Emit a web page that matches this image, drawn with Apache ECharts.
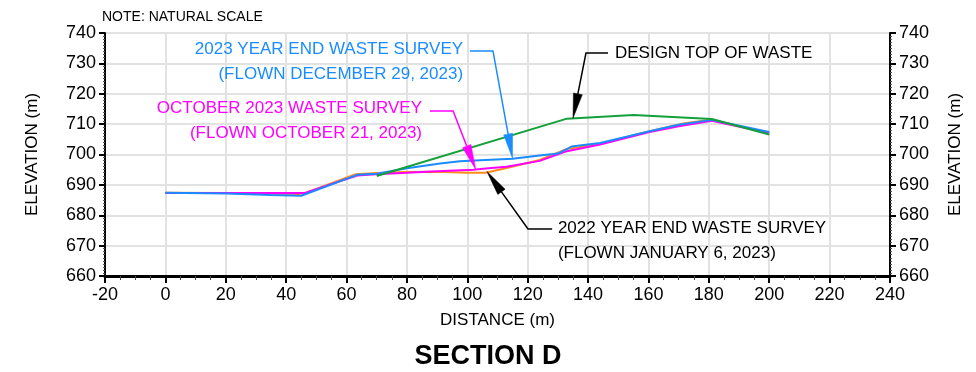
<!DOCTYPE html>
<html>
<head>
<meta charset="utf-8">
<script src="https://cdn.jsdelivr.net/npm/echarts@6/dist/echarts.min.js"></script>
<style>
  html, body { margin: 0; padding: 0; background: #fff; }
  #chart { width: 976px; height: 372px; }
</style>
</head>
<body>
<div id="chart"></div>
<script>
// Section D profiles: distance along section (m) vs elevation (m)
const designDist = [70, 133, 155, 181, 200];
const designElev = [692.9, 711.8, 713.0, 711.7, 706.6];

const survey2022Dist = [0, 20, 44, 46, 63, 70, 80, 90, 100, 106, 112, 124, 133, 144, 160, 172, 180, 200];
const survey2022Elev = [687.4, 687.3, 687.0, 687.2, 693.5, 693.9, 694.2, 694.3, 694.0, 694.0, 695.3, 698.2, 701.8, 703.5, 707.6, 710.3, 711.4, 707.2];

const oct2023Dist = [0, 20, 46, 63.5, 71, 80, 90, 102, 107, 113, 124, 133, 144, 160, 170, 181, 200];
const oct2023Elev = [687.3, 687.3, 687.3, 693.1, 693.6, 694.0, 694.5, 695.0, 695.5, 696.0, 697.9, 701.1, 703.3, 707.3, 709.3, 711.1, 707.1];

const dec2023Dist = [0, 20, 35, 45, 63.5, 70, 80, 91, 97.5, 106, 115, 124, 130, 134.5, 144, 160, 170, 181, 200];
const dec2023Elev = [687.4, 687.2, 686.7, 686.4, 693.3, 693.7, 695.5, 697.0, 697.8, 698.2, 698.6, 699.7, 700.3, 702.6, 703.8, 707.6, 709.8, 711.4, 707.4];

// Axis ranges and tick spacing
const xRange = [-20, 240, 20];
const yRange = [660, 740, 10];

// Callout labels: text lines, text anchor, leader start, elbow, arrow tip (data units)
const callouts = [
  { lines: ['2023 YEAR END WASTE SURVEY', '(FLOWN DECEMBER 29, 2023)'], color: '#1a8cff', align: 'right',
    text: [98.6, 734.7], start: [100.9, 734.1], elbow: [108.5, 734.1], tip: [115, 698.6] },
  { lines: ['DESIGN TOP OF WASTE'], color: '#000000', align: 'left',
    text: [148.9, 733.4], start: [146.6, 733.4], elbow: [139.3, 733.4], tip: [135, 711.9] },
  { lines: ['OCTOBER 2023 WASTE SURVEY', '(FLOWN OCTOBER 21, 2023)'], color: '#ff00ff', align: 'right',
    text: [85.0, 715.3], start: [87.6, 714.3], elbow: [95.3, 714.3], tip: [102.8, 695.1] },
  { lines: ['2022 YEAR END WASTE SURVEY', '(FLOWN JANUARY 6, 2023)'], color: '#000000', align: 'left',
    text: [130.0, 675.8], start: [128.1, 675.5], elbow: [120.1, 675.5], tip: [106.5, 694.4] }
];

const FONT = '"Liberation Sans", Arial, Helvetica, sans-serif';
const pairs = (xs, ys) => xs.map((x, i) => [x, ys[i]]);

const chart = echarts.init(document.getElementById('chart'), null, { renderer: 'canvas' });

function yAxisDef(pos, gap) {
  return {
    type: 'value', position: pos, min: yRange[0], max: yRange[1], interval: yRange[2],
    name: 'ELEVATION (m)', nameLocation: 'middle', nameGap: gap, nameRotate: 90,
    nameTextStyle: { fontFamily: FONT, fontSize: 17, color: '#000' },
    axisLine: { show: true, onZero: false, lineStyle: { color: '#000', width: 2 } },
    axisTick: { show: true, length: 6, lineStyle: { color: '#000', width: 2 } },
    minorTick: { show: true, splitNumber: 10, length: 2, lineStyle: { color: '#555', width: 1 } },
    splitLine: { show: pos === 'left', lineStyle: { color: '#e2e2e2', width: 2 } },
    axisLabel: { fontFamily: FONT, fontSize: 18, color: '#000', margin: 9 }
  };
}

function lineSeries(name, data, color) {
  return {
    name, type: 'line', data, xAxisIndex: 0, yAxisIndex: 0,
    showSymbol: false, symbol: 'none', silent: true,
    lineStyle: { color, width: 2 }, itemStyle: { color }
  };
}

chart.setOption({
  animation: false,
  backgroundColor: '#ffffff',
  title: [
    { text: 'NOTE: NATURAL SCALE', left: 97, top: 5,
      textStyle: { fontFamily: FONT, fontSize: 14, fontWeight: 'normal', color: '#000' } },
    { text: 'SECTION D', left: 'center', top: 338,
      textStyle: { fontFamily: FONT, fontSize: 27, fontWeight: 'bold', color: '#000' } }
  ],
  grid: { left: 105, right: 86, top: 33, bottom: 96, show: true, borderColor: '#808080', borderWidth: 2, backgroundColor: 'transparent' },
  xAxis: {
    type: 'value', min: xRange[0], max: xRange[1], interval: xRange[2],
    name: 'DISTANCE (m)', nameLocation: 'middle', nameGap: 36,
    nameTextStyle: { fontFamily: FONT, fontSize: 17, color: '#000' },
    axisLine: { show: true, onZero: false, lineStyle: { color: '#000', width: 3 } },
    axisTick: { show: true, length: 7, lineStyle: { color: '#000', width: 2 } },
    minorTick: { show: true, splitNumber: 4, length: 4, lineStyle: { color: '#444', width: 1 } },
    splitLine: { show: true, lineStyle: { color: '#e2e2e2', width: 2 } },
    axisLabel: { fontFamily: FONT, fontSize: 18, color: '#000', margin: 10 }
  },
  yAxis: [yAxisDef('left', 64), yAxisDef('right', 57)],
  series: [
    lineSeries('2022 YEAR END WASTE SURVEY', pairs(survey2022Dist, survey2022Elev), '#ff8c1a'),
    lineSeries('OCTOBER 2023 WASTE SURVEY', pairs(oct2023Dist, oct2023Elev), '#ff00ff'),
    lineSeries('2023 YEAR END WASTE SURVEY', pairs(dec2023Dist, dec2023Elev), '#1a8cff'),
    lineSeries('DESIGN TOP OF WASTE', pairs(designDist, designElev), '#14a03a')
  ]
});

// Callout leaders with filled arrowheads, positioned through the chart's own scales
function toPx(p) { return chart.convertToPixel({ gridIndex: 0 }, p); }

const graphics = [];
callouts.forEach(c => {
  const t = toPx(c.text), s = toPx(c.start), e = toPx(c.elbow), tip = toPx(c.tip);
  const dx = tip[0] - e[0], dy = tip[1] - e[1];
  const len = Math.hypot(dx, dy), ux = dx / len, uy = dy / len;
  const L = 25, W = 9;
  const bx = tip[0] - ux * L, by = tip[1] - uy * L;
  const nx = -uy * W / 2, ny = ux * W / 2;
  graphics.push({
    type: 'polyline', silent: true, z: 100,
    shape: { points: [s, e, [bx, by]] },
    style: { stroke: c.color, lineWidth: 1.5, fill: null }
  });
  graphics.push({
    type: 'polygon', silent: true, z: 100,
    shape: { points: [tip, [bx + nx, by + ny], [bx - nx, by - ny]] },
    style: { fill: c.color, stroke: c.color, lineWidth: 0.5 }
  });
  graphics.push({
    type: 'text', silent: true, z: 100,
    x: t[0], y: t[1] - 12.5,
    style: {
      text: c.lines.join('\n'), fill: c.color,
      font: '17px ' + FONT, align: c.align, verticalAlign: 'top', lineHeight: 25
    }
  });
});
chart.setOption({ graphic: graphics });
</script>
</body>
</html>
